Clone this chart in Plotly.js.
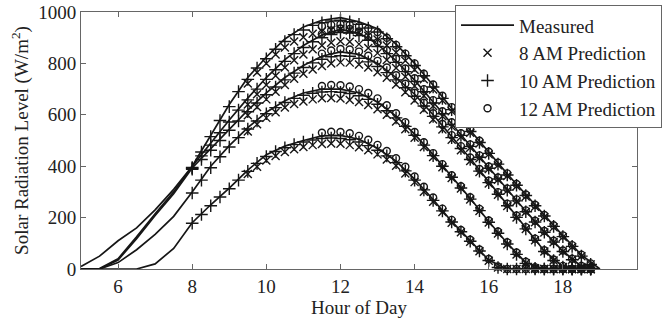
<!DOCTYPE html>
<html><head><meta charset="utf-8">
<script src="https://cdn.plot.ly/plotly-3.0.1.min.js"></script>
<style>html,body{margin:0;padding:0;background:#fff}#chart{width:668px;height:322px}</style>
</head><body><div id="chart"></div>
<script>
// Hours of day
const hoursMeasured = [5,5.5,6,6.5,7,7.5,8,8.5,9,9.5,10,10.5,11,11.5,12,12.5,13,13.5,14,14.5,15,15.5,16,16.5,17,17.5,18,18.5,19];
const hoursPlus = [8,8.25,8.5,8.75,9,9.25,9.5,9.75,10,10.25,10.5,10.75,11,11.25,11.5,11.75,12,12.25,12.5,12.75,13,13.25,13.5,13.75,14,14.25,14.5,14.75,15,15.25,15.5,15.75,16,16.25,16.5,16.75,17,17.25,17.5,17.75,18,18.25,18.5,18.75];
const hoursCross = [9.5,9.75,10,10.25,10.5,10.75,11,11.25,11.5,11.75,12,12.25,12.5,12.75,13,13.25,13.5,13.75,14,14.25,14.5,14.75,15,15.25,15.5,15.75,16,16.25,16.5,16.75,17,17.25,17.5,17.75,18,18.25,18.5,18.75];
const hoursCircle = [11.5,11.75,12,12.25,12.5,12.75,13,13.25,13.5,13.75,14,14.25,14.5,14.75,15,15.25,15.5,15.75,16,16.25,16.5,16.75,17,17.25,17.5,17.75,18,18.25,18.5,18.75];

// Measured solar radiation (W/m^2), five days
const measA = [10,50,110,160,230,310,400,520,640,745,825,895,942,968,978,962,935,875,800,715,625,540,455,370,290,210,130,55,0];
const measB = [0,2,40,125,215,300,400,490,580,665,745,815,870,910,932,918,875,810,735,650,565,480,395,310,225,145,70,10,0];
const measC = [0,0,35,118,208,293,393,468,545,618,685,745,792,828,845,835,800,745,680,600,515,430,340,250,160,70,10,0,0];
const measD = [0,0,25,75,135,205,300,400,480,550,610,655,685,700,700,685,650,595,525,445,360,275,185,100,25,0,0,0,0];
const measE = [0,0,0,0,20,80,180,250,315,385,445,478,500,518,520,505,470,420,350,270,185,110,35,0,0,0,0,0,0];

// "+" predictions
const plusA = [395,455,515,578,632,690,738,782,818,855,885,912,930,948,958,965,968,962,952,938,922,896,865,830,792,752,708,664,620,578,535,492,450,408,366,326,286,246,206,166,126,88,50,18];
const plusB = [392,440,482,530,572,618,658,700,738,775,808,838,862,884,900,912,920,918,908,890,866,838,804,768,730,690,646,604,562,520,477,435,392,350,307,265,223,183,143,105,68,36,8,0];
const plusC = [388,426,462,500,540,576,612,646,678,708,736,762,784,802,816,826,830,828,820,806,788,764,736,705,672,634,594,553,511,469,426,381,336,291,246,201,156,112,68,33,8,0,0,0];
const plusD = [296,346,394,437,475,511,545,576,604,628,648,664,676,684,689,690,688,683,674,660,641,616,588,555,520,482,441,400,357,315,272,227,182,139,97,57,22,3,0,0,0,0,0,0];
const plusE = [178,212,246,280,312,346,380,411,438,457,472,484,494,502,508,510,508,503,494,480,462,440,414,382,346,308,267,226,183,145,108,70,33,6,0,0,0,0,0,0,0,0,0,0];

// "x" predictions
const crossA = [722,765,800,835,862,885,902,915,925,930,932,928,920,908,893,870,842,810,775,738,698,656,614,572,530,488,446,404,362,322,282,242,202,162,124,86,50,18];
const crossB = [640,680,716,752,784,812,835,855,870,880,886,884,875,860,840,813,782,748,712,674,634,594,554,514,472,431,389,347,305,263,222,182,142,104,68,36,8,0];
const crossC = [598,630,660,690,716,740,760,776,790,800,804,803,796,784,766,744,718,688,656,620,582,543,503,462,420,377,333,289,245,200,156,112,68,33,8,0,0,0];
const crossD = [535,563,588,610,628,642,652,660,664,665,663,658,650,638,622,600,574,544,511,475,436,396,354,313,270,226,181,138,96,56,22,3,0,0,0,0,0,0];
const crossE = [370,398,422,440,455,466,475,482,486,488,487,482,474,462,446,426,402,372,338,301,262,222,180,143,106,69,32,6,0,0,0,0,0,0,0,0,0,0];

// "o" predictions
const circleA = [945,950,952,950,945,936,922,900,872,838,800,760,718,674,630,586,542,499,456,414,372,331,290,250,210,170,131,93,56,22];
const circleB = [915,928,936,934,924,905,882,852,818,780,742,700,657,614,571,528,485,442,399,356,313,271,228,188,148,110,72,40,12,0];
const circleC = [838,850,856,854,846,830,810,784,754,721,686,647,606,564,521,478,434,389,344,299,254,208,163,118,73,37,12,0,0,0];
const circleD = [712,716,715,710,700,685,664,637,606,571,533,493,451,408,365,322,279,234,189,146,104,64,28,7,0,0,0,0,0,0];
const circleE = [530,534,533,528,518,503,483,459,431,398,360,320,278,235,191,152,114,76,39,10,0,0,0,0,0,0,0,0,0,0];

const seriesNames = ['Measured','8 AM Prediction','10 AM Prediction','12 AM Prediction'];
const xTicks = [6,8,10,12,14,16,18];
const yTicks = [0,200,400,600,800,1000];

const measured = [measA,measB,measC,measD,measE];
const pluses = [plusA,plusB,plusC,plusD,plusE];
const crosses = [crossA,crossB,crossC,crossD,crossE];
const circles = [circleA,circleB,circleC,circleD,circleE];

const ink = '#161616';
const traces = [];
function mk(xs, ys, name, rank, symbol, size, show){
  return {type:'scatter', mode:'markers', x:xs, y:ys, name:name, legendgroup:name, legendrank:rank,
    showlegend:show, cliponaxis:false, hoverinfo:'skip',
    marker:{symbol:symbol, size:size, color:ink, line:{color:ink, width:1.4}}};
}
for (let i=0;i<5;i++){
  traces.push(mk(hoursPlus, pluses[i], seriesNames[2], 3, 'cross-thin', 9, i===0));
  traces.push(mk(hoursCross, crosses[i], seriesNames[1], 2, 'x-thin', 8, i===0));
  traces.push(mk(hoursCircle, circles[i], seriesNames[3], 4, 'circle-open', 7, i===0));
}
measured.forEach((ys,i)=>traces.push({type:'scatter', mode:'lines', x:hoursMeasured, y:ys, name:seriesNames[0],
  legendgroup:'m', legendrank:1, showlegend:i===0, cliponaxis:false, hoverinfo:'skip',
  line:{color:ink, width:1.7}}));

const axisCommon = {ticks:'inside', ticklen:5, tickcolor:'#666', showline:true, linecolor:'#666', linewidth:1,
  mirror:'ticks', showgrid:false, zeroline:false, tickfont:{size:19, color:'#222'}, automargin:false};

const layout = {
  width:668, height:322,
  margin:{l:81, r:31, t:12, b:53, autoexpand:false},
  paper_bgcolor:'#fff', plot_bgcolor:'#fff',
  font:{family:'"Liberation Serif","Times New Roman",serif', color:'#222', size:19},
  showlegend:true,
  legend:{x:0.6727, xanchor:'left', y:1.026, yanchor:'top',
    bgcolor:'#fff', bordercolor:'#666', borderwidth:1,
    font:{size:19, color:'#222'}, itemwidth:53, tracegroupgap:0},
  xaxis:Object.assign({}, axisCommon, {range:[5,20], tickvals:xTicks, ticktext:xTicks.map(String),
    title:{text:'Hour of Day', font:{size:19, color:'#222'}, standoff:2}}),
  yaxis:Object.assign({}, axisCommon, {range:[0,1000], tickvals:yTicks, ticktext:yTicks.map(String),
    title:{text:'Solar Radiation Level (W/m<sup>2</sup>)', font:{size:19, color:'#222'}, standoff:4}})
};
Plotly.newPlot('chart', traces, layout, {staticPlot:true, displayModeBar:false});
</script></body></html>
